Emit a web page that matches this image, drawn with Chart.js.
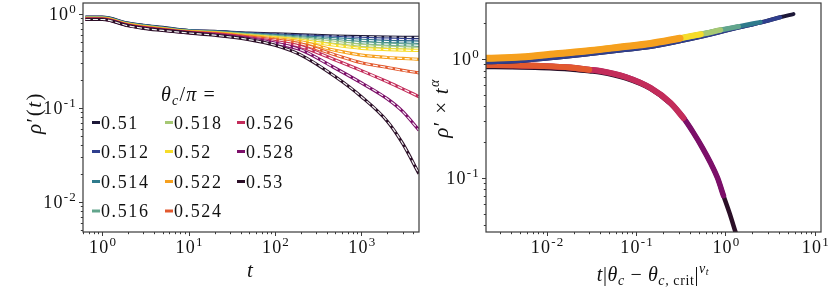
<!DOCTYPE html>
<html><head><meta charset="utf-8">
<script src="https://cdn.jsdelivr.net/npm/chart.js@4/dist/chart.umd.min.js"></script>
<style>
html,body{margin:0;padding:0;background:#fff;width:830px;height:291px;overflow:hidden}
#c1{position:absolute;left:0;top:0}
#c2{position:absolute;left:420px;top:0}
</style></head><body>
<canvas id="c1" width="420" height="291"></canvas>
<canvas id="c2" width="410" height="291"></canvas>
<script>
// ---------- DATA ----------
const thetaLabels = ['0.51','0.512','0.514','0.516','0.518','0.52','0.522','0.524','0.526','0.528','0.53'];
const seriesColors = ['#1d1838','#2f3f8e','#2f7b8c','#62a58c','#a6c874','#f6dc2a','#f6a01e','#e2592e','#c32c5a','#7c0f69','#2b0f27'];

// left panel: rho'(t)
const timeT    = [0.64, 1, 2, 3, 5, 10, 20, 50, 100, 200, 500, 1000, 2000, 3000, 4640];
const rho_0510 = [.925,.925,.80,.758,.72,.668,.655,.625,.615,.60,.583,.574,.568,.566,.565];
const rho_0512 = [.92,.92,.795,.753,.715,.665,.65,.618,.60,.585,.565,.55,.54,.535,.53];
const rho_0514 = [.915,.915,.79,.748,.71,.661,.645,.61,.59,.57,.545,.525,.51,.505,.50];
const rho_0516 = [.91,.91,.785,.743,.705,.657,.64,.602,.58,.555,.522,.495,.478,.47,.465];
const rho_0518 = [.905,.905,.78,.738,.70,.653,.635,.595,.57,.54,.50,.465,.445,.437,.43];
const rho_0520 = [.90,.90,.775,.733,.695,.649,.63,.587,.56,.525,.465,.432,.418,.413,.41];
const rho_0522 = [.895,.895,.77,.727,.69,.645,.625,.578,.545,.505,.41,.366,.345,.337,.33];
const rho_0524 = [.89,.89,.765,.721,.685,.641,.618,.568,.53,.48,.367,.303,.27,.252,.237];
const rho_0526 = [.885,.885,.76,.716,.68,.637,.61,.557,.51,.45,.324,.25,.19,.16,.132];
const rho_0528 = [.88,.88,.755,.71,.675,.633,.603,.547,.49,.415,.265,.185,.125,.092,.058];
const rho_0530 = [.875,.875,.75,.705,.67,.629,.595,.535,.465,.366,.215,.132,.072,.042,.020];
const rhoSeries = [rho_0510,rho_0512,rho_0514,rho_0516,rho_0518,rho_0520,rho_0522,rho_0524,rho_0526,rho_0528,rho_0530];

// right panel: scaling collapse
const upperX     = [0.00214,0.00512,0.0136,0.031,0.0671,0.145,0.31,0.53,0.88,1.4,2.46,4.1,5.75];
const upperY     = [1.014,1.039,1.112,1.179,1.261,1.350,1.496,1.616,1.753,1.878,2.045,2.245,2.388];
const upperEdgeY = [0.938,0.962,1.029,1.102,1.179,1.261,1.408,1.536,1.686,1.835,2.025,2.245,2.388];
const lowerX     = [0.00214,0.00396,0.00857,0.0185,0.03,0.0401,0.0764,0.145,0.243,0.339,0.439,0.553,0.680,0.814,0.950,1.109,1.294];
const lowerY     = [0.890,0.885,0.873,0.848,0.813,0.793,0.706,0.571,0.427,0.319,0.239,0.179,0.134,0.100,0.0707,0.0507,0.0350];
const lowerEdgeY = [0.857,0.852,0.840,0.816,0.788,0.770,0.686,0.560,0.419,0.319,0.239,0.179,0.134,0.100,0.0707,0.0507,0.0350];
// per series (index into thetaLabels): which curve and largest scaled time reached
const collapseCurve = ['upEdge','upEdge','up','up','up','up','up','low','low','low','lowEdge'];
const collapseEnd   = [5.75, 4.1, 2.46, 1.4, 0.88, 0.53, 0.31, 0.03, 0.339, 0.95, 1.294];

// ---------- HELPERS ----------
const SERIF = '"Liberation Serif","DejaVu Serif",serif';
function fnt(size, italic){ return (italic?'italic ':'') + size + 'px ' + SERIF; }
function drawParts(ctx, parts, x, y, align, spacing){
  ctx.save();
  ctx.textBaseline='alphabetic'; ctx.textAlign='left'; ctx.fillStyle='#111';
  try{ ctx.letterSpacing=(spacing||0)+'px'; }catch(e){}
  const ws = parts.map(p=>{ ctx.font=fnt(p[1],p[2]); return ctx.measureText(p[0]).width; });
  const w = ws.reduce((a,b)=>a+b,0);
  let cx = align==='center'? x-w/2 : align==='right'? x-w : x;
  parts.forEach((p,i)=>{ ctx.font=fnt(p[1],p[2]); ctx.fillText(p[0], cx, y+(p[3]||0)); cx+=ws[i]; });
  ctx.restore();
}
function minorList(min,max){
  const out=[]; for(let e=-4;e<=4;e++){ for(let m=2;m<=9;m++){ const v=m*Math.pow(10,e); if(v>min&&v<max) out.push(v);} } return out;
}
const FRAME='#3a3a3a';
function axesPlugin(cfg){
  return {id:'axesDeco', afterDraw(chart){
    const ctx=chart.ctx, a=chart.chartArea, xs=chart.scales.x, ys=chart.scales.y;
    ctx.save();
    ctx.strokeStyle=FRAME; ctx.lineWidth=1;
    const tick=(px,py,dx,dy)=>{ctx.beginPath();ctx.moveTo(px,py);ctx.lineTo(px+dx,py+dy);ctx.stroke();};
    cfg.xMaj.forEach(v=>{const p=Math.round(xs.getPixelForValue(v))+0.5; tick(p,a.bottom,0,4);});
    minorList(xs.min,xs.max).forEach(v=>{const p=Math.round(xs.getPixelForValue(v))+0.5; tick(p,a.bottom,0,2.2);});
    cfg.yMaj.forEach(v=>{const p=Math.round(ys.getPixelForValue(v))+0.5; tick(a.left,p,-4,0);});
    minorList(ys.min,ys.max).forEach(v=>{const p=Math.round(ys.getPixelForValue(v))+0.5; tick(a.left,p,-2.2,0);});
    ctx.lineWidth=1.2;
    ctx.strokeRect(a.left,a.top,a.right-a.left,a.bottom-a.top);
    ctx.restore();
    cfg.xMaj.forEach((v,i)=>{ drawParts(ctx,[['10',18,false,0],[cfg.xExp[i],13,false,-7]], xs.getPixelForValue(v)+1, 253,'center',1.2); });
    cfg.yMaj.forEach((v,i)=>{ drawParts(ctx,[['10',18,false,0],[cfg.yExp[i],13,false,-7]], a.left-6, ys.getPixelForValue(v)+6,'right',1.2); });
    cfg.extra && cfg.extra(ctx, a);
  }};
}

// ---------- LEFT CHART ----------
const leftDatasets=[];
for(let i=thetaLabels.length-1;i>=0;i--){
  const pts = timeT.map((t,k)=>({x:t,y:rhoSeries[i][k]}));
  leftDatasets.push({label:'fit '+thetaLabels[i], data:pts, borderColor:'rgba(255,255,255,0.95)', borderWidth:1.2, borderDash:[5,2.5], pointRadius:0, cubicInterpolationMode:'monotone', clip:0});
  leftDatasets.push({label:thetaLabels[i], data:pts, borderColor:seriesColors[i], borderWidth:3.2, pointRadius:0, cubicInterpolationMode:'monotone', clip:0});
}
function leftExtra(ctx,a){
  drawParts(ctx,[['t',21,true,0]], 250, 277,'center',0);
  ctx.save(); ctx.translate(41,113); ctx.rotate(-Math.PI/2);
  drawParts(ctx,[['ρ',21,true,0],['′',21,false,0],['(',21,false,0],['t',21,true,0],[')',21,false,0]],0,0,'center',1.5);
  ctx.restore();
  // legend
  drawParts(ctx,[['θ',20,true,0],['c',14,true,4],['/',20,false,0],['π',20,true,0],[' =',20,false,0]],161,101,'left',1.2);
  const colX=[92,165,237], rowY=[122.5,151.5,181.5,211];
  thetaLabels.forEach((lab,i)=>{
    const c=Math.floor(i/4), r=i%4;
    ctx.save(); ctx.strokeStyle=seriesColors[i]; ctx.lineWidth=3;
    ctx.beginPath(); ctx.moveTo(colX[c],rowY[r]); ctx.lineTo(colX[c]+8,rowY[r]); ctx.stroke(); ctx.restore();
    drawParts(ctx,[[lab,18,false,0]], colX[c]+9, rowY[r]+6,'left',1.6);
  });
}
new Chart(document.getElementById('c1'),{
  type:'line',
  data:{datasets:leftDatasets},
  options:{responsive:false,animation:false,devicePixelRatio:1,
    layout:{padding:{left:83,right:1,top:3,bottom:59}},
    plugins:{legend:{display:false},tooltip:{enabled:false}},
    scales:{
      x:{type:'logarithmic',min:0.64,max:4640,display:false},
      y:{type:'logarithmic',min:0.0048,max:1.31,display:false}
    }},
  plugins:[axesPlugin({xMaj:[1,10,100,1000],xExp:['0','1','2','3'],yMaj:[0.01,0.1,1],yExp:['-2','-1','0'],extra:leftExtra})]
});

// ---------- RIGHT CHART ----------
const curves={up:[upperX,upperY],upEdge:[upperX,upperEdgeY],low:[lowerX,lowerY],lowEdge:[lowerX,lowerEdgeY]};
const rightWidths=[4,4,4.5,5,5.5,6,7,6,6,5.5,4.5];
const rightOrder=[6,5,4,3,2,1,0,7,8,9,10]; // first = top-most
const rightDatasets=rightOrder.map(i=>{
  const [cx,cy]=curves[collapseCurve[i]];
  const pts=[]; cx.forEach((x,k)=>{ if(x<=collapseEnd[i]*1.0001) pts.push({x:x,y:cy[k]}); });
  return {label:thetaLabels[i],data:pts,borderColor:seriesColors[i],borderWidth:rightWidths[i],pointRadius:0,cubicInterpolationMode:'monotone',clip:0,borderCapStyle:'round'};
});
function rightExtra(ctx,a){
  drawParts(ctx,[['t',20,true,0],['|',20,false,0],['θ',20,true,0],['c',14,true,4],[' − ',20,false,0],['θ',20,true,0],['c, ',14,true,4],['crit',14,false,4],['|',20,false,0],['ν',14,true,-8],['t',10,true,-6]],233,281,'center',0.6);
  ctx.save(); ctx.translate(28,108); ctx.rotate(-Math.PI/2);
  drawParts(ctx,[['ρ',21,true,0],['′',21,false,0],[' × ',21,false,0],['t',21,true,0],['α',14,true,-9]],0,0,'center',1.3);
  ctx.restore();
}
new Chart(document.getElementById('c2'),{
  type:'line',
  data:{datasets:rightDatasets},
  options:{responsive:false,animation:false,devicePixelRatio:1,
    layout:{padding:{left:66,right:9,top:3,bottom:59}},
    plugins:{legend:{display:false},tooltip:{enabled:false}},
    scales:{
      x:{type:'logarithmic',min:0.0021,max:11.7,display:false},
      y:{type:'logarithmic',min:0.035,max:2.96,display:false}
    }},
  plugins:[axesPlugin({xMaj:[0.01,0.1,1,10],xExp:['-2','-1','0','1'],yMaj:[0.1,1],yExp:['-1','0'],extra:rightExtra})]
});
</script>
</body></html>
